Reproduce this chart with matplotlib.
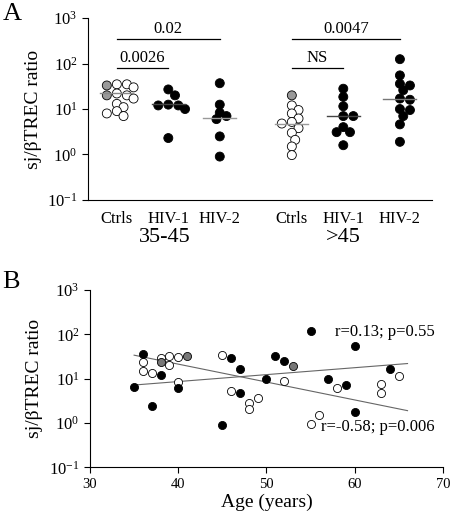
import matplotlib
matplotlib.use("Agg")
import matplotlib.pyplot as plt
import matplotlib.transforms as mtransforms
from matplotlib.ticker import LogLocator, LogFormatterMathtext, NullLocator
import numpy as np

plt.rcParams['font.family'] = ['Liberation Serif', 'DejaVu Serif']
plt.rcParams['mathtext.fontset'] = 'stix'
plt.rcParams['axes.unicode_minus'] = False

# ---- panel A data ----
group_names = ["Ctrls", "HIV-1", "HIV-2", "Ctrls", "HIV-1", "HIV-2"]
group_pos = [0, 1, 2, 3.4, 4.4, 5.5]
ctrl_young = [35, 30, 35, 22, 20, 17, 13, 11, 9, 8, 7]
ctrl_young_gray = [33, 20]
hiv1_young = [27, 20, 12.5, 12, 12, 10, 2.3]
hiv2_young = [37, 12.5, 8.3, 7, 6, 2.5, 0.9]
ctrl_old = [12, 9.5, 8, 6.2, 5.2, 4.8, 3.8, 3.0, 2.1, 1.5, 0.97]
ctrl_old_gray = [20]
hiv1_old = [28, 18.5, 11.5, 7, 7, 4, 3.1, 3.1, 1.6]
hiv2_old = [125, 55, 36, 33, 26, 17, 16, 10, 9.5, 7, 4.6, 1.9]
medians = [22, 13, 6.4, 4.7, 7, 16.5]
median_colors = ["#888888", "#444444", "#999999", "#999999", "#444444", "#777777"]

bracket_from = [0, 0, 3.4, 3.4]
bracket_to = [1, 2, 4.4, 5.5]
bracket_y = [78, 347, 78, 347]
bracket_text = ["0.0026", "0.02", "NS", "0.0047"]

# ---- panel B data ----
hiv_age = [35, 36, 37, 38, 40, 45, 46, 47, 47, 50, 51, 52, 55, 57, 59, 60, 60, 64]
hiv_ratio = [6.6, 37, 2.46, 12.1, 6.3, 0.9, 30, 16.2, 4.7, 9.7, 33, 25.5, 121, 9.8, 7.2, 55, 1.8, 16.8]
gray_age = [38, 41, 53]
gray_ratio = [24, 33, 19.3]
ctrl_age = [36, 36, 37, 38, 39, 39, 40, 40, 45, 46, 48, 48, 49, 52, 55, 56, 58, 63, 63, 65]
ctrl_ratio = [24, 14.9, 13.2, 28.8, 32, 20.4, 31, 8.5, 34, 5.4, 2.9, 2.1, 3.6, 9.0, 0.93, 1.5, 6.3, 7.6, 4.7, 11.7]
fit_age = [35, 66]
hiv_fit = [7.2, 22]
ctrl_fit = [34, 1.9]


def swarm(vals, center, step=0.13, xunit=51.5, yunit=45.5, diam=7.2):
    ''' simple beeswarm offsets so circles don't overlap too much '''
    placed = []
    xs = []
    for v in vals:
        ly = np.log10(v)
        for k in [0, 1, -1, 2, -2, 3, -3, 4, -4, 5, -5]:
            x = center + k * step / 2
            ok = True
            for px, py in placed:
                d = np.hypot((x - px) * xunit, (ly - py) * yunit)
                if d < diam:
                    ok = False
                    break
            if ok:
                break
        placed.append((x, ly))
        xs.append(x)
    return xs


def style_log_y(ax):
    ax.set_yscale("log")
    ax.set_ylim(0.1, 1000)
    ax.yaxis.set_major_locator(LogLocator(base=10, numticks=10))
    ax.yaxis.set_major_formatter(LogFormatterMathtext())
    ax.yaxis.set_minor_locator(NullLocator())
    ax.spines["top"].set_visible(False)
    ax.spines["right"].set_visible(False)
    ax.set_ylabel("sj/\u03b2TREC ratio", fontsize=14, labelpad=4)


fig = plt.figure(figsize=(4.5, 5.18), dpi=100)

# ---------- A ----------
axA = fig.add_axes([0.1956, 0.614, 0.764, 0.351])
style_log_y(axA)
axA.set_xlim(-0.56, 6.12)

sets = [
    (ctrl_young + ctrl_young_gray, ["white"] * len(ctrl_young) + ["#999999"] * len(ctrl_young_gray)),
    (hiv1_young, ["black"] * len(hiv1_young)),
    (hiv2_young, ["black"] * len(hiv2_young)),
    (ctrl_old + ctrl_old_gray, ["white"] * len(ctrl_old) + ["#999999"] * len(ctrl_old_gray)),
    (hiv1_old, ["black"] * len(hiv1_old)),
    (hiv2_old, ["black"] * len(hiv2_old)),
]
for i, (vals, cols) in enumerate(sets):
    order = np.argsort(vals)[::-1]
    v = np.array(vals)[order]
    c = np.array(cols)[order]
    xs = swarm(v, group_pos[i])
    axA.scatter(xs, v, s=42, c=list(c), edgecolors="black", linewidths=0.6, zorder=3)
    axA.plot([group_pos[i] - 0.32, group_pos[i] + 0.32], [medians[i], medians[i]],
             color=median_colors[i], lw=1.0, zorder=4)

for x0, x1, y, t in zip(bracket_from, bracket_to, bracket_y, bracket_text):
    axA.plot([x0, x1], [y, y], color="black", lw=0.9)
    axA.annotate(t, xy=((x0 + x1) / 2, y), xytext=(0, 1.5), textcoords="offset points",
                 ha="center", va="bottom", fontsize=12)

axA.set_xticks(group_pos)
axA.set_xticklabels(group_names, fontsize=12)
axA.tick_params(axis="x", length=0, pad=8)
axA.tick_params(axis="y", labelsize=12, length=4, direction="out")
trans = mtransforms.blended_transform_factory(axA.transData, axA.transAxes)
axA.text(group_pos[1] - 0.06, -0.205, "35-45", transform=trans, ha="center", va="center", fontsize=16)
axA.text(group_pos[4], -0.205, ">45", transform=trans, ha="center", va="center", fontsize=16)

# ---------- B ----------
axB = fig.add_axes([0.2, 0.0979, 0.784, 0.342])
style_log_y(axB)
axB.set_xlim(30, 70)
axB.set_xticks([30, 40, 50, 60, 70])
axB.tick_params(axis="y", labelsize=12, length=4, direction="out")
axB.tick_params(axis="x", labelsize=10.5, length=4, direction="out")
axB.set_xlabel("Age (years)", fontsize=14, labelpad=2)

axB.plot(fit_age, hiv_fit, color="#666666", lw=0.8, zorder=2)
axB.plot(fit_age, ctrl_fit, color="#666666", lw=0.8, zorder=2)
axB.scatter(ctrl_age, ctrl_ratio, s=34, c="white", edgecolors="black", linewidths=0.6, zorder=3)
axB.scatter(gray_age, gray_ratio, s=34, c="#777777", edgecolors="black", linewidths=0.6, zorder=4)
axB.scatter(hiv_age, hiv_ratio, s=34, c="black", edgecolors="black", linewidths=0.6, zorder=5)
axB.text(69.1, 115, "r=0.13; p=0.55", ha="right", va="center", fontsize=12)
axB.text(69.1, 0.83, "r=-0.58; p=0.006", ha="right", va="center", fontsize=12)

fig.text(0.005, 0.995, "A", fontsize=19, ha="left", va="top")
fig.text(0.005, 0.477, "B", fontsize=19, ha="left", va="top")

fig.savefig("out.png", dpi=100)
